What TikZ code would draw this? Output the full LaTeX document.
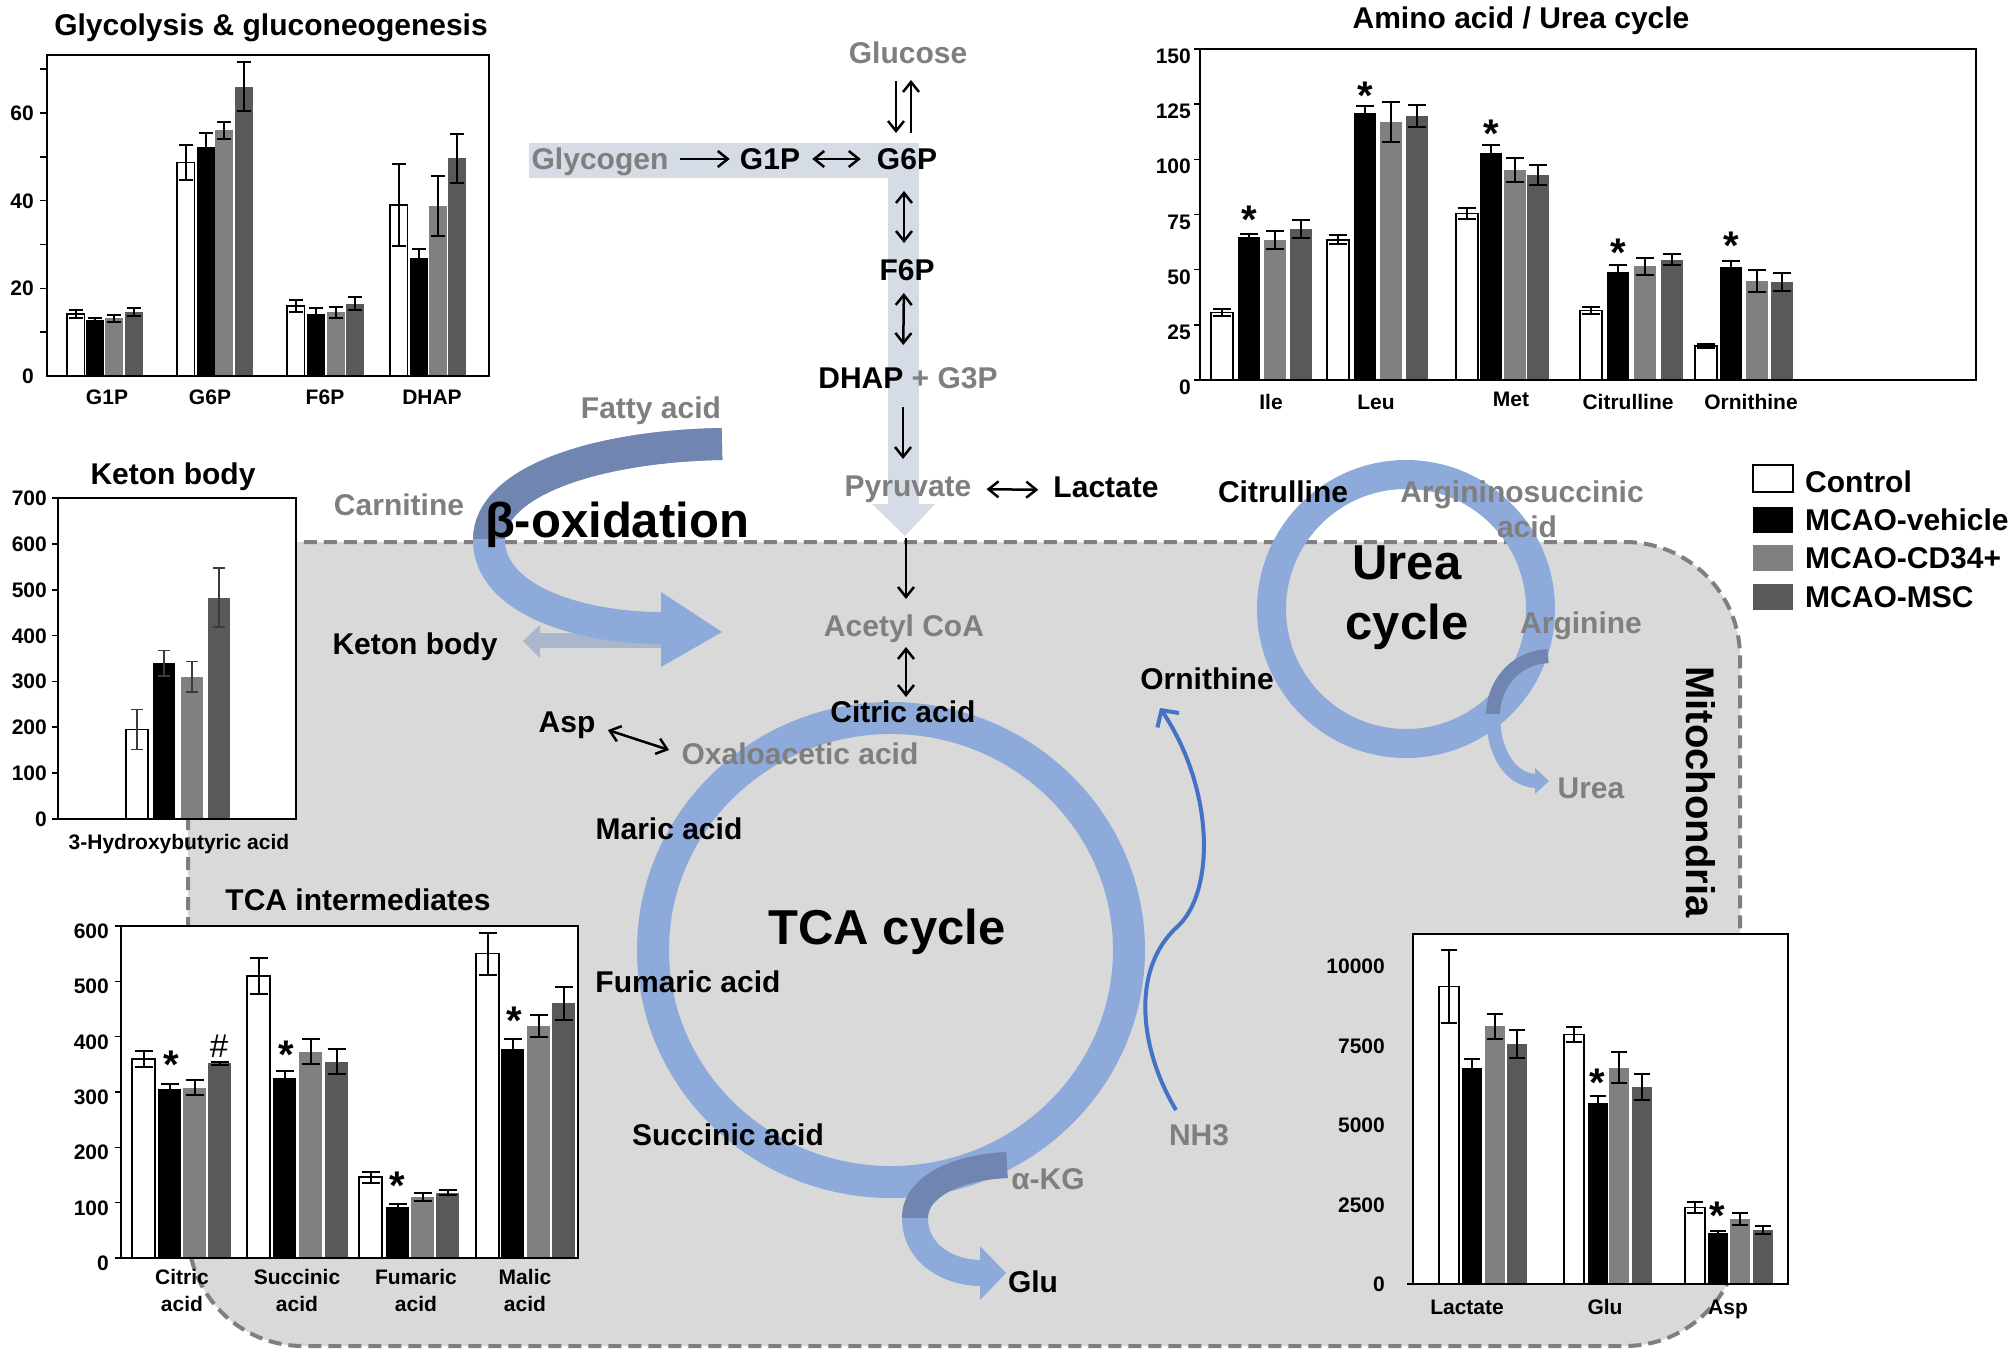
\documentclass[tikz,border=0pt]{standalone}
\usepackage{fontspec}
\setmainfont{Liberation Sans}
\usetikzlibrary{arrows.meta}
\definecolor{txtgray}{RGB}{127,127,127}
\definecolor{bargray}{RGB}{128,128,128}
\definecolor{bardark}{RGB}{89,89,89}
\definecolor{mitofill}{RGB}{217,217,217}
\definecolor{mitoline}{RGB}{127,127,127}
\definecolor{ringblue}{RGB}{142,170,219}
\definecolor{banddark}{RGB}{112,134,176}
\definecolor{glyband}{RGB}{214,220,229}
\definecolor{ketarrow}{RGB}{170,182,204}
\definecolor{nhblue}{RGB}{68,114,196}
\definecolor{errgray}{RGB}{60,60,60}
\newcommand\ebar[3]{%
  \draw[ebst] ({#1+0.5*\barw},{#2-#3}) -- ({#1+0.5*\barw},{#2+#3})
    ({#1+0.5*\barw-\capw},{#2+#3}) -- ({#1+0.5*\barw+\capw},{#2+#3})
    ({#1+0.5*\barw-\capw},{#2-#3}) -- ({#1+0.5*\barw+\capw},{#2-#3});}
\newcommand\wbar[3]{\filldraw[fill=white,draw=black,line width=1.6pt] (#1,0) rectangle ({#1+\barw},#2);\ebar{#1}{#2}{#3}}
\newcommand\kbar[3]{\fill[black] (#1,0) rectangle ({#1+\barw},#2);\ebar{#1}{#2}{#3}}
\newcommand\gbar[3]{\fill[bargray] (#1,0) rectangle ({#1+\barw},#2);\ebar{#1}{#2}{#3}}
\newcommand\dbar[3]{\fill[bardark] (#1,0) rectangle ({#1+\barw},#2);\ebar{#1}{#2}{#3}}
\begin{document}
\begin{tikzpicture}[x=1pt,y=-1pt,
  lb/.style={font=\fontsize{30}{36}\selectfont\bfseries, inner sep=0pt, text height=21.6pt, text depth=0pt},
  lbg/.style={lb, text=txtgray},
  big/.style={font=\fontsize{49}{58}\selectfont\bfseries, inner sep=0pt, text height=35.3pt, text depth=0pt},
  ax/.style={font=\fontsize{21}{25}\selectfont\bfseries, inner sep=0pt, text height=15.1pt, text depth=0pt},
  astk/.style={font=\fontsize{40}{40}\selectfont\bfseries, inner sep=0pt, anchor=north},
  hasht/.style={font=\fontsize{33}{33}\selectfont, inner sep=0pt},
  mitot/.style={font=\fontsize{40}{48}\selectfont\bfseries, inner sep=0pt, text height=28.8pt, text depth=0pt, rotate=-90},
  boxst/.style={line width=2pt, draw=black},
  tk/.style={line width=1.6pt},
  ebst/.style={line width=2pt, draw=black},
  arr/.style={line width=2.5pt, -{Straight Barb[length=10pt,width=16pt]}},
  darr/.style={line width=2.5pt, {Straight Barb[length=10pt,width=16pt]}-{Straight Barb[length=10pt,width=16pt]}},
  ]
\useasboundingbox (0,0) rectangle (2010,1354);
\fill[white] (0,0) rectangle (2010,1354);

% mitochondria
\draw[draw=mitoline, line width=4pt, dash pattern=on 13pt off 7pt, fill=mitofill, rounded corners=115pt] (188,542) rectangle (1740,1346);

% glycolysis band
\fill[glyband] (529,143) rectangle (919,178);
\fill[glyband] (888,143) rectangle (919,504);
\fill[glyband] (872,504) -- (935,504) -- (905,536) -- cycle;

% keton body arrow
\fill[ketarrow] (662,633) rectangle (539,648);
\fill[ketarrow] (540,625) -- (540,658) -- (523,641) -- cycle;

% beta-oxidation band
\draw[ringblue, line width=32pt] (722,444) .. controls (600,446) and (489,480) .. (489,540) .. controls (489,600) and (580,628) .. (662,628);
\begin{scope}
\clip (0,0) rectangle (2010,538);
\draw[banddark, line width=32pt] (722,444) .. controls (600,446) and (489,480) .. (489,540) .. controls (489,600) and (580,628) .. (662,628);
\end{scope}
\fill[ringblue] (661,592) -- (661,667) -- (722,632) -- cycle;

% rings
\draw[ringblue, line width=32pt] (891,950) ellipse [x radius=238pt, y radius=232pt];
\draw[ringblue, line width=29pt] (1406,609) circle [radius=134.5pt];

% alpha-KG band
\draw[ringblue, line width=26pt] (1007,1165) .. controls (960,1167) and (915,1185) .. (915,1218) .. controls (915,1255) and (950,1273) .. (981,1273);
\begin{scope}
\clip (0,0) rectangle (2010,1217);
\draw[banddark, line width=26pt] (1007,1165) .. controls (960,1167) and (915,1185) .. (915,1218) .. controls (915,1255) and (950,1273) .. (981,1273);
\end{scope}
\fill[ringblue] (980,1246) -- (980,1300) -- (1006,1273) -- cycle;

% urea band
\draw[ringblue, line width=14pt] (1548,656) .. controls (1512,658) and (1493,688) .. (1493,715) .. controls (1493,752) and (1510,780) .. (1536,781);
\begin{scope}
\clip (0,0) rectangle (2010,713);
\draw[banddark, line width=14pt] (1548,656) .. controls (1512,658) and (1493,688) .. (1493,715) .. controls (1493,752) and (1510,780) .. (1536,781);
\end{scope}
\fill[ringblue] (1535,768) -- (1535,794) -- (1549,781) -- cycle;

% ================= Chart: Glycolysis
\node[lb] (t1) at (271,25) {Glycolysis \& gluconeogenesis};
\fill[white] (47,55) rectangle (489,376);
\begin{scope}[shift={(0,376)}, yscale=-4.385]
\def\barw{17.5}\def\capw{7}
\foreach \v in {10,20,...,70} \draw[tk] (40,\v) -- (47,\v);
\foreach \v in {0,20,40,60} \node[ax,anchor=east] at (34,\v) {\v};
\wbar{67}{14.2}{0.9}\kbar{86}{12.7}{0.5}\gbar{105}{13.2}{0.8}\dbar{125}{14.5}{0.9}
\wbar{177}{48.7}{4}\kbar{197}{52.2}{3.2}\gbar{215}{56}{2}\dbar{235}{66}{5.6}
\wbar{287}{16}{1.4}\kbar{307}{14.2}{1.2}\gbar{327}{14.5}{1.2}\dbar{346}{16.5}{1.5}
\wbar{390}{39}{9.4}\kbar{410}{27}{2}\gbar{429}{38.8}{6.8}\dbar{448}{49.7}{5.6}
\end{scope}
\draw[boxst] (47,55) rectangle (489,376);
\node[ax] (c1a) at (107,397) {G1P};
\node[ax] (c1b) at (210,397) {G6P};
\node[ax] (c1c) at (325,397) {F6P};
\node[ax] (c1d) at (432,397) {DHAP};

% ================= Chart: Amino acid
\node[lb] (t2) at (1521,18) {Amino acid / Urea cycle};
\fill[white] (1200,49) rectangle (1976,380);
\begin{scope}[shift={(0,380)}, yscale=-2.207]
\def\barw{22}\def\capw{9}
\foreach \v in {0,25,...,150} \draw[tk] (1194,\v) -- (1200,\v);
\foreach \v in {0,25,...,150} \node[ax,anchor=east,yshift=-7pt] at (1191,\v) {\v};
\wbar{1211}{30.5}{1.5}\kbar{1238}{65}{1}\gbar{1264}{63.5}{4}\dbar{1290}{68.5}{4}
\wbar{1327}{63.5}{2}\kbar{1354}{121}{3}\gbar{1380}{117}{9}\dbar{1406}{119.5}{5}
\wbar{1456}{75.5}{2.5}\kbar{1480}{103}{3.5}\gbar{1504}{95}{5.5}\dbar{1527}{93}{4.5}
\wbar{1580}{31.5}{1.5}\kbar{1607}{49}{3}\gbar{1634}{51.5}{4}\dbar{1661}{54.5}{2.5}
\wbar{1695}{15.5}{0.8}\kbar{1720}{51}{3}\gbar{1746}{45}{5}\dbar{1771}{44.5}{4}
\end{scope}
\draw[boxst] (1200,49) rectangle (1976,380);
\node[astk] (s1) at (1249,206) {*};
\node[astk] (s2) at (1365,82) {*};
\node[astk] (s3) at (1491,120) {*};
\node[astk] (s4) at (1618,239) {*};
\node[astk] (s5) at (1731,232) {*};
\node[ax] (c2a) at (1271,402) {Ile};
\node[ax] (c2b) at (1376,402) {Leu};
\node[ax] (c2c) at (1511,399) {Met};
\node[ax] (c2d) at (1628,402) {Citrulline};
\node[ax] (c2e) at (1751,402) {Ornithine};

% ================= Chart: Keton body
\node[lb] (t3) at (173,474) {Keton body};
\fill[white] (58,498) rectangle (296,819);
\begin{scope}[shift={(0,819)}, yscale=-0.4586, ebst/.style={line width=1.4pt, draw=errgray}]
\def\barw{22}\def\capw{6}
\foreach \v in {0,100,...,700} \draw[tk] (52,\v) -- (58,\v);
\foreach \v in {0,100,...,700} \node[ax,anchor=east] at (47,\v) {\v};
\wbar{126}{195}{44}\kbar{153}{340}{28}\gbar{181}{310}{33}\dbar{208}{483}{64}
\end{scope}
\draw[boxst] (58,498) rectangle (296,819);
\node[ax] (c3) at (179,842) {3-Hydroxybutyric acid};

% ================= Chart: TCA intermediates
\node[lb] (t4) at (358,900) {TCA intermediates};
\fill[white] (121,926) rectangle (578,1258);
\begin{scope}[shift={(0,1258)}, yscale=-0.5533]
\def\barw{23}\def\capw{9}
\foreach \v in {0,100,...,600} \draw[tk] (115,\v) -- (121,\v);
\foreach \v in {0,100,...,600} \node[ax,anchor=east,yshift=-5pt] at (109,\v) {\v};
\wbar{132}{360}{15}\kbar{158}{305}{10}\gbar{183}{308}{13}\dbar{208}{352}{3}
\wbar{247}{510}{32}\kbar{273}{325}{13}\gbar{299}{373}{22}\dbar{325}{355}{22}
\wbar{359}{146}{10}\kbar{386}{93}{5}\gbar{411}{110}{7}\dbar{436}{118}{5}
\wbar{476}{550}{38}\kbar{501}{377}{18}\gbar{527}{420}{20}\dbar{552}{460}{30}
\end{scope}
\draw[boxst] (121,926) rectangle (578,1258);
\node[astk] (s6) at (171,1051) {*};
\node[hasht] (s7) at (219,1046) {\#};
\node[astk] (s8) at (286,1041) {*};
\node[astk] (s9) at (397,1172) {*};
\node[astk] (s10) at (514,1007) {*};
\node[ax] (c4a) at (182,1277) {Citric};
\node[ax] (c4a2) at (182,1304) {acid};
\node[ax] (c4b) at (297,1277) {Succinic};
\node[ax] (c4b2) at (297,1304) {acid};
\node[ax] (c4c) at (416,1277) {Fumaric};
\node[ax] (c4c2) at (416,1304) {acid};
\node[ax] (c4d) at (525,1277) {Malic};
\node[ax] (c4d2) at (525,1304) {acid};

% ================= Chart: bottom right
\fill[white] (1413,934) rectangle (1788,1284);
\begin{scope}[shift={(0,1284)}, yscale=-0.0318]
\def\barw{20}\def\capw{8}
\draw[tk] (1407,0) -- (1413,0);
\foreach \v in {0,2500,5000,7500,10000} \node[ax,anchor=east] at (1385,\v) {\v};
\wbar{1439}{9350}{1150}\kbar{1462}{6800}{280}\gbar{1485}{8100}{400}\dbar{1507}{7550}{450}
\wbar{1564}{7850}{230}\kbar{1588}{5700}{200}\gbar{1609}{6800}{490}\dbar{1632}{6200}{400}
\wbar{1685}{2400}{170}\kbar{1708}{1600}{80}\gbar{1730}{2050}{180}\dbar{1753}{1700}{130}
\end{scope}
\draw[boxst] (1413,934) rectangle (1788,1284);
\node[astk] (s11) at (1597,1069) {*};
\node[astk] (s12) at (1717,1202) {*};
\node[ax] (c5a) at (1467,1307) {Lactate};
\node[ax] (c5b) at (1605,1307) {Glu};
\node[ax] (c5c) at (1728,1307) {Asp};

% ================= Legend
\draw[line width=2pt, fill=white] (1753,465) rectangle (1793,492);
\fill[black] (1753,507) rectangle (1793,533);
\fill[bargray] (1753,545) rectangle (1793,571);
\fill[bardark] (1753,584) rectangle (1793,610);
\node[lb,anchor=west] (lg1) at (1805,482) {Control};
\node[lb,anchor=west] (lg2) at (1805,520) {MCAO-vehicle};
\node[lb,anchor=west] (lg3) at (1805,558) {MCAO-CD34+};
\node[lb,anchor=west] (lg4) at (1805,597) {MCAO-MSC};

% ================= Pathway labels
\node[lbg] (glucose) at (908,53) {Glucose};
\node[lbg] (glycogen) at (600,159) {Glycogen};
\node[lb] (g1p) at (770,159) {G1P};
\node[lb] (g6p) at (907,159) {G6P};
\node[lb] (f6p) at (907,270) {F6P};
\node[lb] (dhap) at (908,378) {DHAP \textcolor{txtgray}{+ G3P}};
\node[lbg] (pyruvate) at (908,486) {Pyruvate};
\node[lb] (lactate) at (1106,487) {Lactate};
\node[lbg] (fatty) at (651,408) {Fatty acid};
\node[lbg] (carnitine) at (399,505) {Carnitine};
\node[big] (betaox) at (617,520) {β-oxidation};
\node[lb] (keton) at (415,644) {Keton body};
\node[lbg] (acetyl) at (904,626) {Acetyl CoA};
\node[lb] (citric) at (903,712) {Citric acid};
\node[lb] (asp) at (567,722) {Asp};
\node[lbg] (oxalo) at (800,754) {Oxaloacetic acid};
\node[lb] (maric) at (669,829) {Maric acid};
\node[lb] (fumaric) at (688,982) {Fumaric acid};
\node[lb] (succinic) at (728,1135) {Succinic acid};
\node[big] (tca) at (887,927) {TCA cycle};
\node[lbg] (akg) at (1048,1179) {α-KG};
\node[lb] (glu) at (1033,1282) {Glu};
\node[lbg] (nh3) at (1199,1135) {NH3};
\node[lb] (ornithine) at (1207,679) {Ornithine};
\node[lb] (citrulline) at (1283,492) {Citrulline};
\node[lbg] (argsucc) at (1522,492) {Argininosuccinic};
\node[lbg] (argsucc2) at (1527,527) {acid};
\node[big] (urea1) at (1407,562) {Urea};
\node[big] (urea2) at (1407,622) {cycle};
\node[lbg] (arginine) at (1581,623) {Arginine};
\node[lbg] (ureaout) at (1591,788) {Urea};
\node[mitot] (mito) at (1701,792) {Mitochondria};

% ================= Connectors
\draw[arr] ([xshift=-12pt,yshift=-17pt]glucose.south) -- ([xshift=-11pt,yshift=15pt]g6p.north);
\draw[arr] ([xshift=4pt,yshift=15pt]g6p.north) -- ([xshift=3pt,yshift=-16pt]glucose.south);
\draw[arr, shorten <=11pt, shorten >=10pt] (glycogen.east) -- (g1p.west);
\draw[darr, shorten <=12pt, shorten >=16pt] (g1p.east) -- (g6p.west);
\draw[darr, shorten <=21pt, shorten >=16pt] ([xshift=-3pt]g6p.south) -- ([xshift=-3pt]f6p.north);
\draw[darr, shorten <=12pt, shorten >=22pt] ([xshift=-3pt]f6p.south) -- ([xshift=-5pt]dhap.north);
\draw[arr, shorten <=18pt, shorten >=16pt] ([xshift=-5pt]dhap.south) -- ([xshift=-5pt]pyruvate.north);
\draw[darr, shorten <=15pt, shorten >=15pt] ([yshift=-3pt]pyruvate.east) -- ([yshift=-3pt]lactate.west);
\draw[arr, shorten <=41pt, shorten >=16pt] ([xshift=-2pt]pyruvate.south) -- ([xshift=2pt]acetyl.north);
\draw[darr, shorten <=10pt, shorten >=4pt] ([xshift=2pt]acetyl.south) -- ([xshift=3pt]citric.north);
\draw[darr, shorten <=13pt, shorten >=13pt] ([yshift=-4pt]asp.east) -- (oxalo.west);
\draw[nhblue, line width=4pt, -{Straight Barb[length=12pt,width=26pt]}] ([xshift=-23pt,yshift=14pt]nh3.north) .. controls (1140,1050) and (1130,970) .. (1177,927) .. controls (1215,893) and (1215,790) .. ([xshift=-47pt,yshift=-18pt]ornithine.south);
\end{tikzpicture}
\end{document}
